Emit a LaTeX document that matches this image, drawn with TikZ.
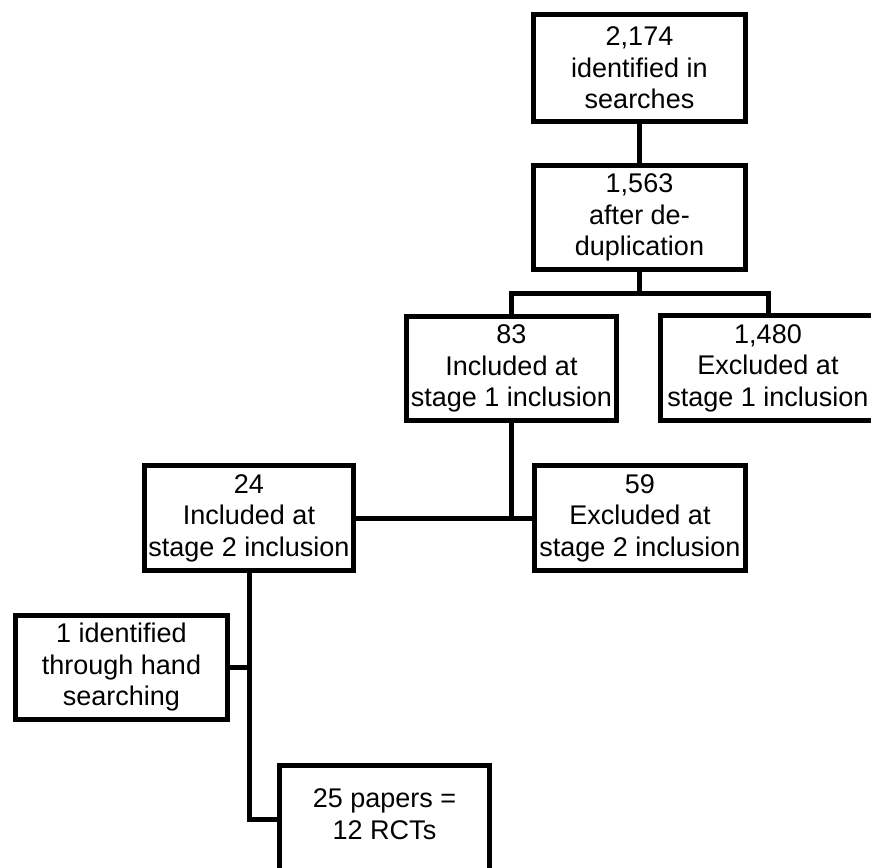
\documentclass[tikz,border=0pt]{standalone}
\usepackage{fontspec}
\setmainfont{Liberation Sans}
\begin{document}
\begin{tikzpicture}[x=1pt,y=-1pt,
  txt/.style={align=center,font=\fontsize{27}{31.5}\selectfont},
  box/.style={draw=black,line width=5pt,fill=white,inner sep=0pt,txt},
  conn/.style={draw=black,line width=5pt,line join=miter}]
\useasboundingbox (0,0) rectangle (871,868);
\clip (0,0) rectangle (871,868);
\node[box,minimum width=212pt,minimum height=107pt] (b1) at (639.5,68) {2,174\\identified in\\searches};
\node[box,minimum width=212pt,minimum height=104pt] (b2) at (639.5,217.5) {1,563\\after de-\\duplication};
\node[box,minimum width=210pt,minimum height=104pt] (b3) at (511.5,368.5) {83\\Included at\\stage 1 inclusion};
\node[box,minimum width=215pt,minimum height=105pt] (b4) at (768,368) {1,480\\Excluded at\\stage 1 inclusion};
\node[box,minimum width=209pt,minimum height=105pt] (b5) at (249,518) {24\\Included at\\stage 2 inclusion};
\node[box,minimum width=211pt,minimum height=105pt] (b6) at (640,518) {59\\Excluded at\\stage 2 inclusion};
\node[box,minimum width=212pt,minimum height=104pt] (b7) at (121.5,667.5) {1 identified\\through hand\\searching};
\node[box,minimum width=210pt,minimum height=107pt,
  label={[txt,yshift=5pt]center:25 papers =\\12 RCTs}] (b8) at (384.5,819) {};
\coordinate (bar) at (639.5,293);
\draw[conn] (b1.south) -- (b2.north);
\draw[conn] (b2.south) -- (bar);
\draw[conn] (b3.north) -- (b3.north |- bar) -- (b4.north |- bar) -- (b4.north);
\draw[conn] (b5.east) -- (b6.west);
\draw[conn] (b3.south) -- (b3.south |- b5.east);
\draw[conn] (b5.south) |- (b8.west);
\draw[conn] (b7.east) -- (b7.east -| b5.south);
\end{tikzpicture}
\end{document}
